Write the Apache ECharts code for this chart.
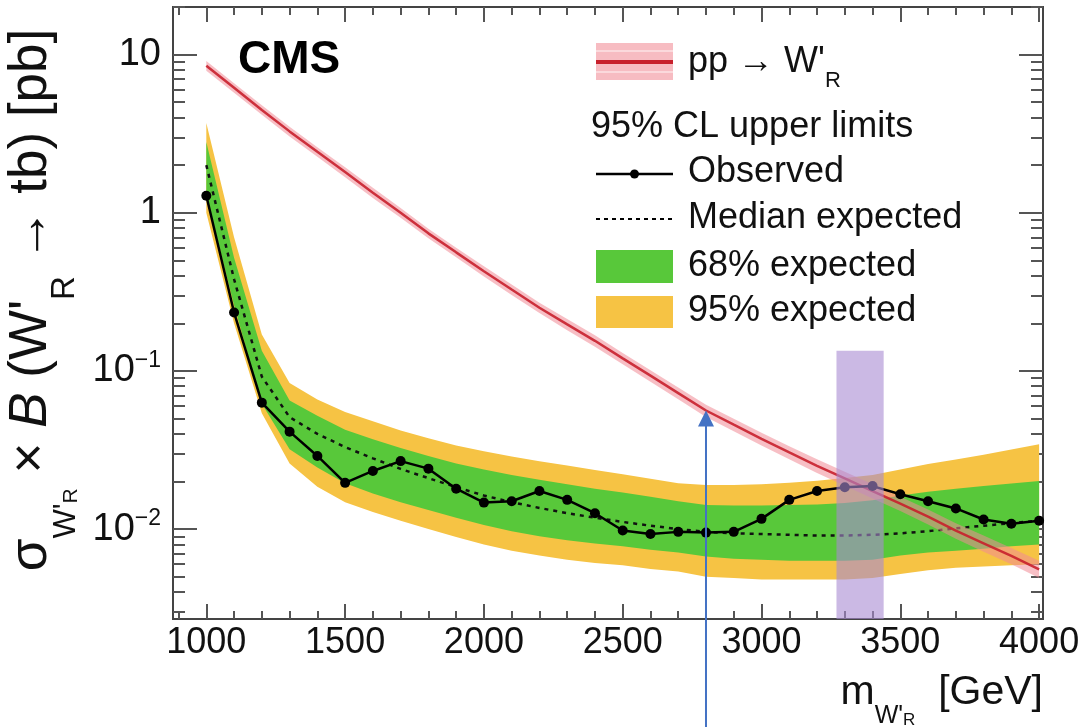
<!DOCTYPE html>
<html><head><meta charset="utf-8">
<script src="https://cdn.jsdelivr.net/npm/echarts@6/dist/echarts.min.js"></script>
<style>html,body{margin:0;padding:0;background:#fff}#c{width:1091px;height:727px}</style>
</head><body><div id="c"></div>
<script>
// ---------------- data ----------------
const masses = [1000,1100,1200,1300,1400,1500,1600,1700,1800,1900,2000,2100,2200,2300,2400,2500,2600,2700,2800,2900,3000,3100,3200,3300,3400,3500,3600,3700,3800,3900,4000];
const observed = [1.28,0.234,0.063,0.0413,0.029,0.0196,0.0233,0.0269,0.0241,0.018,0.0147,0.0150,0.0174,0.0153,0.0126,0.0098,0.0093,0.0096,0.0095,0.0096,0.0116,0.0153,0.0174,0.0184,0.0187,0.0166,0.0150,0.0135,0.0115,0.0108,0.0113];
const expMedian = [2.0,0.38,0.092,0.051,0.040,0.033,0.028,0.024,0.021,0.0184,0.0163,0.0148,0.0136,0.0126,0.0118,0.0111,0.0105,0.0100,0.0096,0.0094,0.0093,0.0092,0.0091,0.0091,0.0092,0.0094,0.0097,0.0101,0.0105,0.0109,0.0113];
const exp68Lo = [1.3,0.26,0.062,0.032,0.0245,0.0195,0.0168,0.0148,0.0132,0.0118,0.0106,0.0097,0.0090,0.0085,0.0081,0.0078,0.0074,0.0071,0.0067,0.0065,0.0064,0.0063,0.0063,0.0063,0.0064,0.0068,0.0071,0.0073,0.0075,0.0078,0.0080];
const exp68Hi = [2.8,0.52,0.134,0.065,0.052,0.0425,0.037,0.0325,0.029,0.026,0.0238,0.0220,0.0205,0.0192,0.0180,0.0170,0.0160,0.0150,0.0142,0.0141,0.0141,0.0142,0.0143,0.0146,0.0152,0.0163,0.0172,0.0180,0.0187,0.0194,0.0201];
const exp95Lo = [1.0,0.2,0.054,0.026,0.0185,0.0148,0.0128,0.0113,0.0100,0.0089,0.0080,0.0073,0.0068,0.0064,0.0061,0.0059,0.0056,0.0054,0.0050,0.0049,0.0048,0.0048,0.0048,0.0048,0.0049,0.0052,0.0055,0.0057,0.0058,0.0059,0.0060];
const exp95Hi = [3.7,0.7,0.17,0.084,0.066,0.055,0.048,0.042,0.0375,0.0338,0.031,0.0288,0.0268,0.0252,0.0236,0.0222,0.0208,0.0195,0.0190,0.0190,0.0192,0.0196,0.0202,0.0210,0.0220,0.0238,0.0258,0.0275,0.0295,0.0318,0.0344];
const theory = [8.51,6.17,4.47,3.27,2.43,1.81,1.34,1.0,0.741,0.562,0.427,0.327,0.251,0.197,0.155,0.120,0.0933,0.0724,0.0562,0.0457,0.0372,0.0305,0.0251,0.0209,0.0174,0.0145,0.0120,0.00977,0.00813,0.00676,0.00556];
const theoryLo = [7.9,5.74,4.16,3.04,2.26,1.68,1.24,0.93,0.689,0.523,0.395,0.302,0.232,0.181,0.142,0.110,0.0855,0.0662,0.0512,0.0416,0.0337,0.0276,0.0226,0.0188,0.0156,0.0130,0.0107,0.0087,0.0072,0.0060,0.0049];
const theoryHi = [9.1,6.6,4.78,3.5,2.6,1.94,1.44,1.07,0.793,0.601,0.459,0.352,0.27,0.213,0.168,0.130,0.101,0.0786,0.0612,0.0498,0.0407,0.0334,0.0276,0.0230,0.0192,0.0160,0.0133,0.0109,0.0091,0.0076,0.0063];
const xTickLabels = [1000,1500,2000,2500,3000,3500,4000];
const yTickLabels = [0.01,0.1,1,10];
const highlightMass = [3270,3440];   // purple shaded band
const highlightTop = 0.134;
const arrowMass = 2800;               // blue arrow points at theory curve here

// ---------------- layout / style ----------------
const X_MIN = 880, X_MAX = 4014, Y_MIN = 0.0027, Y_MAX = 20;
const FONT = 'Liberation Sans, Arial, Helvetica, sans-serif';
const TICK = '#555';
const xMinor = []; for (let v = 900; v <= 4000; v += 100) if (v % 500 !== 0) xMinor.push(v);
const yMinor = [];
for (const d of [0.001,0.01,0.1,1,10]) for (let k = 2; k <= 9; k++) { const v = +(k*d).toPrecision(3); if (v >= Y_MIN && v <= Y_MAX) yMinor.push(v); }
yMinor.push(20);

function xAx(pos, values, len, labels) {
  return { type:'value', min:X_MIN, max:X_MAX, position:pos,
    axisLine:{show:false, onZero:false}, splitLine:{show:false},
    axisTick:{show:true, inside:true, length:len, customValues:values, lineStyle:{color:TICK, width:2}},
    axisLabel: labels ? {show:true, customValues:xTickLabels, margin:6, fontSize:36, color:'#111', fontFamily:FONT,
      formatter: v => String(v)} : {show:false} };
}
function yAx(pos, values, len, labels) {
  return { type:'log', logBase:10, min:Y_MIN, max:Y_MAX, position:pos,
    axisLine:{show:false, onZero:false}, splitLine:{show:false}, minorTick:{show:false},
    axisTick:{show:true, inside:true, length:len, customValues:values, lineStyle:{color:TICK, width:2}},
    axisLabel: labels ? {show:true, customValues:yTickLabels, margin:12, fontSize:38, color:'#111', fontFamily:FONT,
      formatter: v => { const e = Math.round(Math.log10(v)); return e >= 0 ? String(Math.round(v)) : '10{sup|−' + (-e) + '}'; },
      rich:{ sup:{fontSize:23, verticalAlign:'top', lineHeight:44, fontFamily:FONT, color:'#111'} } } : {show:false} };
}

function band(lo, hi, color, z, opacity) {
  return { type:'custom', xAxisIndex:0, yAxisIndex:0, z, clip:true, silent:true,
    data:[[masses[0], lo[0]]],
    renderItem(params, api) {
      const pts = [];
      for (let i = 0; i < masses.length; i++) pts.push(api.coord([masses[i], hi[i]]));
      for (let i = masses.length - 1; i >= 0; i--) pts.push(api.coord([masses[i], lo[i]]));
      return { type:'polygon', shape:{points:pts}, style:{fill:color, opacity: opacity == null ? 1 : opacity} };
    } };
}
const zip = arr => masses.map((m, i) => [m, arr[i]]);

const chart = echarts.init(document.getElementById('c'), null, {renderer:'canvas'});
chart.setOption({
  animation:false,
  backgroundColor:'#fff',
  grid:{left:173, right:48, top:7, bottom:108, show:true, borderColor:'#444', borderWidth:2, backgroundColor:'transparent', containLabel:false, outerBoundsMode:'none'},
  xAxis:[
    Object.assign(xAx('bottom', xTickLabels, 15, true), {
      name:"m{s1|W'}{s2|R}  [GeV]", nameLocation:'end', nameGap:0,
      nameTextStyle:{fontSize:41, color:'#111', fontFamily:FONT, align:'right', verticalAlign:'top', padding:[38,0,0,0],
        rich:{ s1:{fontSize:25, verticalAlign:'bottom', lineHeight:56, fontFamily:FONT, color:'#111'},
               s2:{fontSize:17, verticalAlign:'bottom', lineHeight:72, fontFamily:FONT, color:'#111'} } } }),
    xAx('bottom', xMinor, 8, false),
    xAx('top', xTickLabels, 15, false),
    xAx('top', xMinor, 8, false)
  ],
  yAxis:[
    Object.assign(yAx('left', yTickLabels, 24, true), {
      name:"σ{s1|W'}{s2|R} × {it|B} (W'{s3|R} → tb) [pb]", nameLocation:'middle', nameGap:68, nameRotate:90,
      nameTextStyle:{fontSize:53, color:'#111', fontFamily:FONT, padding:[0,0,0,26],
        rich:{ s1:{fontSize:31, verticalAlign:'bottom', lineHeight:80, fontFamily:FONT, color:'#111'},
               s2:{fontSize:21, verticalAlign:'bottom', lineHeight:100, fontFamily:FONT, color:'#111'},
               s3:{fontSize:33, verticalAlign:'bottom', lineHeight:90, fontFamily:FONT, color:'#111'},
               it:{fontSize:53, fontStyle:'italic', fontFamily:FONT, color:'#111'} } } }),
    yAx('left', yMinor, 12, false),
    yAx('right', yTickLabels, 24, false),
    yAx('right', yMinor, 12, false)
  ],
  series:[
    band(exp95Lo, exp95Hi, '#f6c344', 1),
    band(exp68Lo, exp68Hi, '#58c83a', 2),
    { type:'line', name:'Median expected', data:zip(expMedian), z:3, symbol:'none', silent:true,
      lineStyle:{color:'#111', width:2.5, type:[4,5]} },
    band(theoryLo, theoryHi, '#f08a95', 4, 0.55),
    { type:'line', name:'Theory', data:zip(theory), z:5, symbol:'none', silent:true,
      lineStyle:{color:'#c8202c', width:2.5, opacity:0.9} },
    { type:'line', name:'Observed', data:zip(observed), z:6, symbol:'circle', symbolSize:10, silent:true,
      itemStyle:{color:'#000'}, lineStyle:{color:'#000', width:2.5} },
    { type:'custom', xAxisIndex:0, yAxisIndex:0, z:10, clip:true, silent:true,
      data:[[highlightMass[0], highlightTop]],
      renderItem(params, api) {
        const p0 = api.coord([highlightMass[0], highlightTop]);
        const p1 = api.coord([highlightMass[1], Y_MIN]);
        return { type:'rect', shape:{x:p0[0], y:p0[1], width:p1[0]-p0[0], height:p1[1]-p0[1]},
                 style:{fill:'rgba(168,138,210,0.6)'} };
      } }
  ]
});

// ---------------- legend, label and arrow as graphics ----------------
const tip = chart.convertToPixel({xAxisIndex:0, yAxisIndex:0}, [arrowMass, theory[masses.indexOf(arrowMass)]]);
const txt = (x, y, text, extra) => ({ type:'text', x, y, z:50,
  style:Object.assign({ text, fontSize:36, fontFamily:FONT, fill:'#111', verticalAlign:'middle', align:'left' }, extra || {}) });
const LX = 596, LW = 77, TX = 688;
chart.setOption({ graphic:[
  txt(238, 60, 'CMS', {fontSize:46, fontWeight:'bold', fill:'#000'}),
  { type:'rect', z:50, shape:{x:LX, y:43, width:LW, height:37}, style:{fill:'#f7bcc2'} },
  { type:'line', z:51, shape:{x1:LX, y1:51, x2:LX+LW, y2:51}, style:{stroke:'#fbd9dc', lineWidth:2} },
  { type:'line', z:51, shape:{x1:LX, y1:72, x2:LX+LW, y2:72}, style:{stroke:'#fbd9dc', lineWidth:2} },
  { type:'line', z:51, shape:{x1:LX, y1:62, x2:LX+LW, y2:62}, style:{stroke:'#c8202c', lineWidth:4} },
  txt(TX, 62, "pp → W'{s|R}", {rich:{s:{fontSize:22, verticalAlign:'bottom', lineHeight:60, fontFamily:FONT, fill:'#111'}}}),
  txt(591, 127, '95% CL upper limits'),
  { type:'line', z:50, shape:{x1:LX, y1:174, x2:LX+LW, y2:174}, style:{stroke:'#000', lineWidth:2.5} },
  { type:'circle', z:51, shape:{cx:LX+LW/2, cy:174, r:4.5}, style:{fill:'#000'} },
  txt(TX, 172, 'Observed'),
  { type:'line', z:50, shape:{x1:LX, y1:219, x2:LX+LW, y2:219}, style:{stroke:'#000', lineWidth:2, lineDash:[4,4]} },
  txt(TX, 218, 'Median expected'),
  { type:'rect', z:50, shape:{x:LX, y:250, width:LW, height:33}, style:{fill:'#58c83a'} },
  txt(TX, 266, '68% expected'),
  { type:'rect', z:50, shape:{x:LX, y:296, width:LW, height:32}, style:{fill:'#f6c344'} },
  txt(TX, 311, '95% expected'),
  // blue annotation arrow
  { type:'line', z:60, shape:{x1:tip[0], y1:tip[1] + 12, x2:tip[0], y2:727}, style:{stroke:'#4472c4', lineWidth:2} },
  { type:'polygon', z:60, shape:{points:[[tip[0], tip[1]], [tip[0]-8, tip[1]+16], [tip[0]+8, tip[1]+16]]}, style:{fill:'#4472c4'} }
]});
</script></body></html>
